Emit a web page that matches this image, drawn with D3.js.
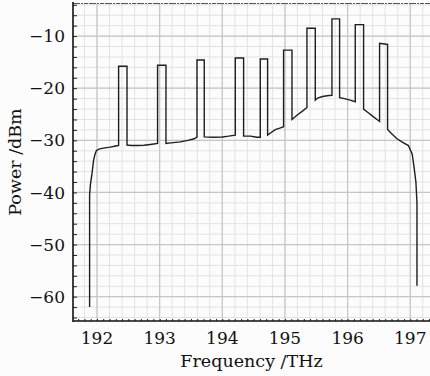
<!DOCTYPE html>
<html>
<head>
<meta charset="utf-8">
<script src="https://cdn.jsdelivr.net/npm/d3@7"></script>
<style>
body { margin: 0; background: #fcfcfc; }
svg { display: block; }
text.lbl { font-family: "DejaVu Serif", serif; font-size: 17px; fill: #111; }
text.title { font-family: "DejaVu Serif", serif; font-size: 17.5px; fill: #111; }
</style>
</head>
<body>
<div></div>
<script>
const W = 430, H = 376;
const LEFT = 73, RIGHT = 430, TOP = 3, BOTTOM = 321;

// spectrum trace
const freq = [191.882, 191.882, 191.895, 191.92, 191.946, 191.97, 191.99, 192.03, 192.1, 192.21, 192.3, 192.345,
  192.345, 192.479, 192.479, 192.55, 192.65, 192.75, 192.85, 192.967,
  192.967, 193.101, 193.101, 193.18, 193.33, 193.45, 193.55, 193.596,
  193.596, 193.712, 193.712, 193.85, 194.0, 194.1, 194.207,
  194.207, 194.34, 194.34, 194.45, 194.55, 194.606,
  194.606, 194.723, 194.723, 194.78, 194.846, 194.93, 194.978,
  194.978, 195.112, 195.112, 195.2, 195.28, 195.351,
  195.351, 195.484, 195.484, 195.52, 195.6, 195.7, 195.75,
  195.75, 195.872, 195.872, 195.95, 196.04, 196.122,
  196.122, 196.255, 196.255, 196.33, 196.414, 196.47, 196.51,
  196.51, 196.638, 196.638, 196.7, 196.788, 196.88, 196.97, 197.03, 197.06, 197.09, 197.107, 197.107];
const power = [-62.0, -40.5, -38.5, -36.4, -33.8, -32.6, -32.0, -31.7, -31.5, -31.3, -31.1, -31.0,
  -15.8, -15.8, -30.9, -31.0, -31.0, -30.95, -30.8, -30.6,
  -15.6, -15.6, -30.6, -30.5, -30.3, -30.0, -29.7, -29.4,
  -14.6, -14.6, -29.35, -29.4, -29.35, -29.2, -29.0,
  -14.2, -14.2, -29.2, -29.2, -29.4, -29.4,
  -14.4, -14.4, -29.0, -28.5, -27.95, -27.6, -27.4,
  -12.7, -12.7, -26.0, -25.1, -24.4, -23.7,
  -8.5, -8.5, -22.3, -21.9, -21.6, -21.4, -21.35,
  -6.7, -6.7, -21.8, -22.0, -22.3, -22.6,
  -7.8, -7.8, -24.0, -24.7, -25.5, -26.0, -26.35,
  -11.4, -11.6, -27.9, -28.7, -29.7, -30.4, -31.0, -32.6, -35.1, -38.0, -42.0, -57.9];

const xTicks = [192, 193, 194, 195, 196, 197];
const yTicks = [-60, -50, -40, -30, -20, -10];
const xMinor = d3.range(191.8, 197.3, 0.2);
const yMinor = d3.range(-64, -3, 2);

const x = d3.scaleLinear().domain([191.617, 197.315]).range([LEFT, RIGHT]);
const y = d3.scaleLinear().domain([-64.67, -3.65]).range([BOTTOM, TOP]);

const svg = d3.select('div').append('svg')
    .attr('width', W)
    .attr('height', H);

// grid
const grid = svg.append('g');
grid.selectAll('.vmin').data(xMinor).join('line')
    .attr('x1', d => x(d)).attr('x2', d => x(d))
    .attr('y1', TOP).attr('y2', BOTTOM)
    .attr('stroke', '#e2e2e2').attr('stroke-width', 1);
grid.selectAll('.hmin').data(yMinor).join('line')
    .attr('x1', LEFT).attr('x2', RIGHT)
    .attr('y1', d => y(d)).attr('y2', d => y(d))
    .attr('stroke', '#e2e2e2').attr('stroke-width', 1);
grid.selectAll('.vmaj').data(xTicks).join('line')
    .attr('x1', d => x(d)).attr('x2', d => x(d))
    .attr('y1', TOP).attr('y2', BOTTOM)
    .attr('stroke', '#c6c6c6').attr('stroke-width', 1.2);
grid.selectAll('.hmaj').data(yTicks).join('line')
    .attr('x1', LEFT).attr('x2', RIGHT)
    .attr('y1', d => y(d)).attr('y2', d => y(d))
    .attr('stroke', '#c6c6c6').attr('stroke-width', 1.2);

// trace
const pts = freq.map((f, i) => [f, power[i]]);
svg.append('path')
    .datum(pts)
    .attr('fill', 'none')
    .attr('stroke', '#1e1e1e')
    .attr('stroke-width', 1.4)
    .attr('d', d3.line().x(d => x(d[0])).y(d => y(d[1])));

// top border (dotted)
svg.append('line')
    .attr('x1', LEFT).attr('x2', RIGHT).attr('y1', TOP + 0.5).attr('y2', TOP + 0.5)
    .attr('stroke', '#555').attr('stroke-width', 1)
    .attr('stroke-dasharray', '7,1,2,1,4,1');

// left axis
const yAxis = svg.append('g').attr('transform', 'translate(' + LEFT + ',0)');
yAxis.call(d3.axisRight(y).tickValues(yMinor).tickSize(4).tickFormat(''));
yAxis.select('.domain').remove();
yAxis.selectAll('line').attr('stroke', '#222');
yAxis.append('line').attr('x1', 0).attr('x2', 0).attr('y1', TOP - 1).attr('y2', BOTTOM + 1)
    .attr('stroke', '#111').attr('stroke-width', 1.6);
svg.append('g').selectAll('text').data(yTicks).join('text')
    .attr('class', 'lbl')
    .attr('x', LEFT - 8)
    .attr('y', d => y(d))
    .attr('dy', '0.36em')
    .attr('text-anchor', 'end')
    .text(d => '\u2212' + Math.abs(d));

// bottom axis
const xAxis = svg.append('g').attr('transform', 'translate(0,' + BOTTOM + ')');
xAxis.call(d3.axisTop(x).tickValues(d3.range(191.7, 197.3, 0.1)).tickSize(2).tickFormat(''));
xAxis.select('.domain').remove();
xAxis.selectAll('line').attr('stroke', '#222');
xAxis.append('line').attr('x1', LEFT).attr('x2', RIGHT).attr('y1', 0).attr('y2', 0)
    .attr('stroke', '#111').attr('stroke-width', 1.6);
svg.append('g').selectAll('text').data(xTicks).join('text')
    .attr('class', 'lbl')
    .attr('x', d => x(d))
    .attr('y', 344)
    .attr('text-anchor', 'middle')
    .text(d => d);

// titles
svg.append('text')
    .attr('class', 'title')
    .attr('x', (LEFT + RIGHT) / 2)
    .attr('y', 367)
    .attr('text-anchor', 'middle')
    .text('Frequency /THz');
svg.append('text')
    .attr('class', 'title')
    .attr('transform', 'translate(21,' + (TOP + BOTTOM) / 2 + ') rotate(-90)')
    .attr('text-anchor', 'middle')
    .text('Power /dBm');
</script>
</body>
</html>
